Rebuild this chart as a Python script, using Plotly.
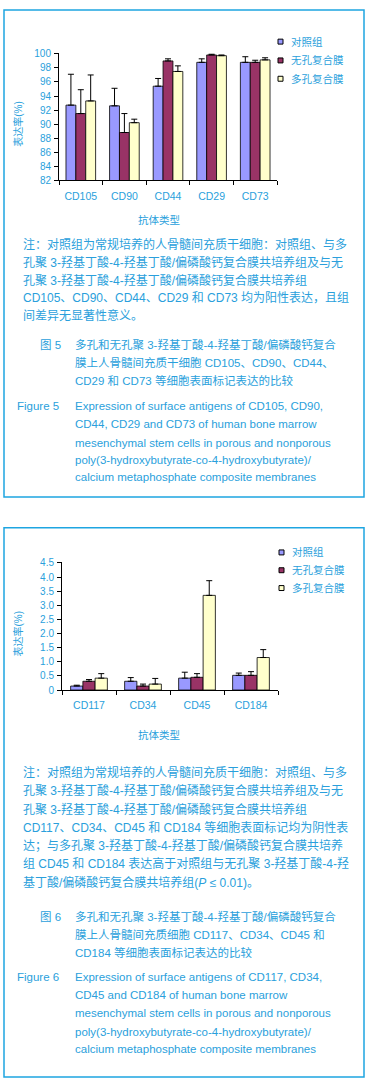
import plotly.graph_objects as go

W, H = 372, 1090

# ---------------- data ----------------
series_names = ["对照组", "无孔复合膜", "多孔复合膜"]
series_colors = ["#9999FF", "#993366", "#FFFFCC"]

categories1 = ["CD105", "CD90", "CD44", "CD29", "CD73"]
control1 = [92.7, 92.6, 95.4, 98.8, 98.8]
control1_err = [4.4, 2.5, 1.1, 0.5, 0.8]
nonporous1 = [91.5, 88.8, 99.0, 99.85, 98.8]
nonporous1_err = [3.4, 2.7, 0.3, 0.1, 0.3]
porous1 = [93.3, 90.2, 97.5, 99.75, 99.15]
porous1_err = [3.7, 0.5, 0.8, 0.1, 0.3]
yticks1 = [82, 84, 86, 88, 90, 92, 94, 96, 98, 100]
yticklabels1 = ["82", "84", "86", "88", "90", "92", "94", "96", "98", "100"]

categories2 = ["CD117", "CD34", "CD45", "CD184"]
control2 = [0.14, 0.31, 0.42, 0.52]
control2_err = [0.03, 0.13, 0.21, 0.08]
nonporous2 = [0.31, 0.14, 0.45, 0.52]
nonporous2_err = [0.06, 0.07, 0.13, 0.13]
porous2 = [0.42, 0.21, 3.35, 1.15]
porous2_err = [0.16, 0.20, 0.52, 0.28]
yticks2 = [0, 0.5, 1.0, 1.5, 2.0, 2.5, 3.0, 3.5, 4.0, 4.5]
yticklabels2 = ["0", "0.5", "1.0", "1.5", "2.0", "2.5", "3.0", "3.5", "4.0", "4.5"]

y_title = "表达率(%)"
x_title = "抗体类型"

notes1 = [
    "注：对照组为常规培养的人骨髓间充质干细胞：对照组、与多",
    "孔聚 3-羟基丁酸-4-羟基丁酸/偏磷酸钙复合膜共培养组及与无",
    "孔聚 3-羟基丁酸-4-羟基丁酸/偏磷酸钙复合膜共培养组",
    "CD105、CD90、CD44、CD29 和 CD73 均为阳性表达，且组",
    "间差异无显著性意义。",
]
caption1_cn = [
    "多孔和无孔聚 3-羟基丁酸-4-羟基丁酸/偏磷酸钙复合",
    "膜上人骨髓间充质干细胞 CD105、CD90、CD44、",
    "CD29 和 CD73 等细胞表面标记表达的比较",
]
caption1_en = [
    "Expression of surface antigens of CD105, CD90,",
    "CD44, CD29 and CD73 of human bone marrow",
    "mesenchymal stem cells in porous and nonporous",
    "poly(3-hydroxybutyrate-co-4-hydroxybutyrate)/",
    "calcium metaphosphate composite membranes",
]
notes2 = [
    "注：对照组为常规培养的人骨髓间充质干细胞：对照组、与多",
    "孔聚 3-羟基丁酸-4-羟基丁酸/偏磷酸钙复合膜共培养组及与无",
    "孔聚 3-羟基丁酸-4-羟基丁酸/偏磷酸钙复合膜共培养组",
    "CD117、CD34、CD45 和 CD184 等细胞表面标记均为阴性表",
    "达；与多孔聚 3-羟基丁酸-4-羟基丁酸/偏磷酸钙复合膜共培养",
    "组 CD45 和 CD184 表达高于对照组与无孔聚 3-羟基丁酸-4-羟",
    "基丁酸/偏磷酸钙复合膜共培养组(<i>P</i> ≤ 0.01)。",
]
caption2_cn = [
    "多孔和无孔聚 3-羟基丁酸-4-羟基丁酸/偏磷酸钙复合",
    "膜上人骨髓间充质细胞 CD117、CD34、CD45 和",
    "CD184 等细胞表面标记表达的比较",
]
caption2_en = [
    "Expression of surface antigens of CD117, CD34,",
    "CD45 and CD184 of human bone marrow",
    "mesenchymal stem cells in porous and nonporous",
    "poly(3-hydroxybutyrate-co-4-hydroxybutyrate)/",
    "calcium metaphosphate composite membranes",
]

# ---------------- style ----------------
TXT = "#2a9fdc"
BORDER = "#1ea5e1"
FONT = "Liberation Sans, Noto Sans CJK SC, sans-serif"


def X(px):
    return px / W


def Y(py):
    return 1 - py / H


fig = go.Figure()

chart1 = [(control1, control1_err), (nonporous1, nonporous1_err), (porous1, porous1_err)]
chart2 = [(control2, control2_err), (nonporous2, nonporous2_err), (porous2, porous2_err)]

for i, (vals, err) in enumerate(chart1):
    fig.add_trace(go.Bar(
        x=categories1, y=vals, name=series_names[i], showlegend=False,
        marker=dict(color=series_colors[i], line=dict(color="black", width=0.8)),
        error_y=dict(type="data", array=err, arrayminus=[0] * len(err), symmetric=False,
                     color="black", thickness=1, width=3),
        xaxis="x", yaxis="y",
    ))
for i, (vals, err) in enumerate(chart2):
    fig.add_trace(go.Bar(
        x=categories2, y=vals, name=series_names[i], showlegend=False,
        marker=dict(color=series_colors[i], line=dict(color="black", width=0.8)),
        error_y=dict(type="data", array=err, arrayminus=[0] * len(err), symmetric=False,
                     color="black", thickness=1, width=3),
        xaxis="x2", yaxis="y2",
    ))

axis_common = dict(showline=True, linecolor="black", linewidth=1, ticks="outside",
                   tickcolor="black", ticklen=4, tickwidth=1, showgrid=False, zeroline=False)

fig.update_layout(
    width=W, height=H, autosize=False,
    margin=dict(l=0, r=0, t=0, b=0),
    paper_bgcolor="white", plot_bgcolor="white",
    barmode="group", bargap=0.32, bargroupgap=0,
    showlegend=False,
    xaxis=dict(domain=[X(59), X(277)], anchor="y", tickson="boundaries",
               ticklabelstandoff=6, tickfont=dict(family=FONT, size=10.5, color=TXT),
               **axis_common),
    yaxis=dict(domain=[Y(177), Y(48)], anchor="x", range=[82, 100.2],
               tickmode="array", tickvals=yticks1, ticktext=yticklabels1,
               ticklabelstandoff=1, tickfont=dict(family=FONT, size=10, color=TXT),
               **axis_common),
    xaxis2=dict(domain=[X(62), X(278)], anchor="y2", tickson="boundaries",
                ticklabelstandoff=5, tickfont=dict(family=FONT, size=10.5, color=TXT),
                **axis_common),
    yaxis2=dict(domain=[Y(692), Y(563)], anchor="x2", range=[0, 4.52],
                tickmode="array", tickvals=yticks2, ticktext=yticklabels2,
                ticklabelstandoff=1, tickfont=dict(family=FONT, size=10, color=TXT),
                **axis_common),
)

shapes = []
annotations = []


def text(px, py, s, size=11.5, anchor="left", angle=0):
    annotations.append(dict(
        x=X(px), y=Y(py), xref="paper", yref="paper", text=s, showarrow=False,
        xanchor=anchor, yanchor="middle", textangle=angle,
        font=dict(family=FONT, size=size, color=TXT),
    ))


# borders
for (y0, y1) in [(5, 497), (528, 1083)]:
    shapes.append(dict(type="rect", xref="paper", yref="paper",
                       x0=X(4), x1=X(364), y0=Y(y1), y1=Y(y0),
                       line=dict(color=BORDER, width=1.5), fillcolor="rgba(0,0,0,0)"))

# manual legends
for (lx, tx, ys) in [(278, 289, [37, 56, 74.5]), (279, 290, [553, 571, 589])]:
    for i, yc in enumerate(ys):
        shapes.append(dict(type="rect", xref="paper", yref="paper",
                           x0=X(lx), x1=X(lx + 5), y0=Y(yc + 2.5), y1=Y(yc - 2.5),
                           line=dict(color="black", width=1), fillcolor=series_colors[i]))
        text(tx, yc, series_names[i], size=10.5)

# axis titles
text(18, 120, y_title, size=10, anchor="center", angle=-90)
text(159, 217, x_title, size=10.5, anchor="center")
text(18, 635, y_title, size=10, anchor="center", angle=-90)
text(159, 737, x_title, size=10.5, anchor="center")

# figure 5 text
for s, yy in zip(notes1, [242, 260, 278, 296, 314]):
    text(21, yy, s, size=12)
text(38, 343, "图 5", size=11.5)
for s, yy in zip(caption1_cn, [343, 361, 379]):
    text(73, yy, s, size=11.5)
text(15, 405, "Figure 5", size=11.5)
for s, yy in zip(caption1_en, [405, 423, 442, 460, 477]):
    text(73, yy, s, size=11.5)

# figure 6 text
for s, yy in zip(notes2, [775, 794, 813, 831, 849, 867, 886]):
    text(21, yy, s, size=12)
text(38, 921, "图 6", size=11.5)
for s, yy in zip(caption2_cn, [921, 939, 957]):
    text(73, yy, s, size=11.5)
text(15, 982, "Figure 6", size=11.5)
for s, yy in zip(caption2_en, [982, 1000, 1018, 1037, 1055]):
    text(73, yy, s, size=11.5)

fig.update_layout(shapes=shapes, annotations=annotations)

fig.write_html("out.html", config={"displayModeBar": False},
               post_script="document.body.style.margin='0';")
